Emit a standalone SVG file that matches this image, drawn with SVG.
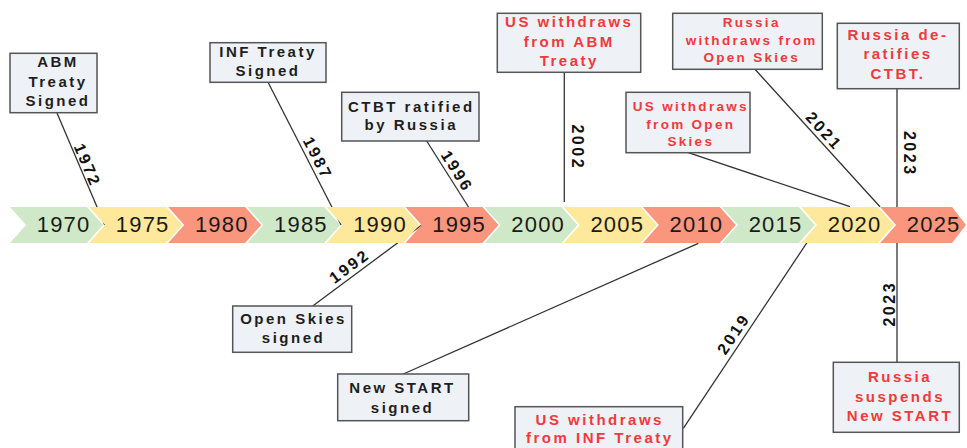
<svg xmlns="http://www.w3.org/2000/svg" width="967" height="448" viewBox="0 0 967 448">
<style>
.bg{fill:#ffffff}
.g{fill:#cfe9c8}.y{fill:#fde89b}.r{fill:#fa957e}
.bl{font-family:"Liberation Sans",Arial,sans-serif;font-size:22px;letter-spacing:1.2px;text-anchor:middle;fill:#1a1a1a}
.box{fill:#eef1f6;stroke:#555;stroke-width:1.5}
.bt{font-family:"Liberation Sans",Arial,sans-serif;font-weight:bold;font-size:15px;letter-spacing:2.5px;text-anchor:middle;fill:#1e1e1e}
.sm{font-size:13.5px;letter-spacing:2.3px}
.red{fill:#f0393b}
.yr{font-family:"Liberation Sans",Arial,sans-serif;font-weight:bold;font-size:16px;letter-spacing:2.5px;text-anchor:middle;fill:#111}
.conn line{stroke:#333;stroke-width:1.3}
</style>
<defs>
<path id="chev" d="M0,207 H77 L93,225 L77,243 H0 L16,225 Z"/>
</defs>
<rect class="bg" x="0" y="0" width="967" height="448"/>
<g id="connectors" class="conn">
<line x1="57" y1="113" x2="104.7" y2="225"/>
<line x1="268.3" y1="82.7" x2="341.1" y2="225"/>
<line x1="426.7" y1="141" x2="479.9" y2="225"/>
<line x1="564.3" y1="72.3" x2="564.3" y2="202"/>
<line x1="688.3" y1="152.7" x2="850" y2="206.7"/>
<line x1="755" y1="69.3" x2="880" y2="206.7"/>
<line x1="897" y1="88.7" x2="897" y2="207"/>
<line x1="312.7" y1="306" x2="421.7" y2="225"/>
<line x1="403.3" y1="374" x2="698.3" y2="243.3"/>
<line x1="683.3" y1="428.3" x2="818.7" y2="225"/>
<line x1="897" y1="243" x2="897" y2="362.3"/>
<g id="year-labels">
<text class="yr" transform="translate(81.9,166.3) rotate(66.9)" x="1.25" y="0">1972</text>
<text class="yr" transform="translate(312.3,159.8) rotate(62.9)" x="1.25" y="0">1987</text>
<text class="yr" transform="translate(451.8,173.2) rotate(57.7)" x="1.25" y="0">1996</text>
<text class="yr" transform="translate(571.5,146) rotate(90)" x="1.25" y="0">2002</text>
<text class="yr" transform="translate(819.2,133.9) rotate(47.7)" x="1.25" y="0">2021</text>
<text class="yr" transform="translate(903.5,152.5) rotate(90)" x="1.25" y="0">2023</text>
<text class="yr" transform="translate(351.8,271.3) rotate(-36.6)" x="1.25" y="0">1992</text>
<text class="yr" transform="translate(737.4,337.9) rotate(-56.3)" x="1.25" y="0">2019</text>
<text class="yr" transform="translate(894.5,305) rotate(-90)" x="1.25" y="0">2023</text>
</g>
</g>
<g id="timeline">
<use href="#chev" class="g" x="10"/>
<use href="#chev" class="y" x="89.1"/>
<use href="#chev" class="r" x="168.2"/>
<use href="#chev" class="g" x="247.3"/>
<use href="#chev" class="y" x="326.4"/>
<use href="#chev" class="r" x="405.5"/>
<use href="#chev" class="g" x="484.6"/>
<use href="#chev" class="y" x="563.7"/>
<use href="#chev" class="r" x="642.8"/>
<use href="#chev" class="g" x="721.9"/>
<use href="#chev" class="y" x="801"/>
<path class="r" d="M880.1,207 H952 L966,225 L952,243 H880.1 L896.1,225 Z"/>
<text class="bl" x="63.6" y="231.7">1970</text>
<text class="bl" x="142.7" y="231.7">1975</text>
<text class="bl" x="221.8" y="231.7">1980</text>
<text class="bl" x="300.9" y="231.7">1985</text>
<text class="bl" x="380" y="231.7">1990</text>
<text class="bl" x="459.1" y="231.7">1995</text>
<text class="bl" x="538.2" y="231.7">2000</text>
<text class="bl" x="617.3" y="231.7">2005</text>
<text class="bl" x="696.4" y="231.7">2010</text>
<text class="bl" x="775.5" y="231.7">2015</text>
<text class="bl" x="854.6" y="231.7">2020</text>
<text class="bl" x="933.7" y="231.7">2025</text>
</g>
<g id="abm-signed">
<rect class="box" x="10" y="53.3" width="87" height="59.4"/>
<text class="bt" x="58" y="67.3">ABM</text>
<text class="bt" x="58" y="86.7">Treaty</text>
<text class="bt" x="58" y="106">Signed</text>
</g>
<g id="inf-signed">
<rect class="box" x="210" y="42.7" width="116" height="39.6"/>
<text class="bt" x="268" y="57.3">INF Treaty</text>
<text class="bt" x="268" y="76">Signed</text>
</g>
<g id="ctbt-ratified">
<rect class="box" x="341.7" y="92.3" width="137.3" height="48.7"/>
<text class="bt" x="411.3" y="111.7">CTBT ratified</text>
<text class="bt" x="411.3" y="130">by Russia</text>
</g>
<g id="us-abm-withdraw">
<rect class="box" x="497.3" y="13.3" width="143.4" height="59"/>
<text class="bt red" x="569.3" y="27.3">US withdraws</text>
<text class="bt red" x="569.3" y="46.7">from ABM</text>
<text class="bt red" x="569.3" y="66">Treaty</text>
</g>
<g id="us-openskies-withdraw">
<rect class="box" x="626" y="92.3" width="124" height="60.4"/>
<text class="bt sm red" x="690.8" y="111">US withdraws</text>
<text class="bt sm red" x="690.8" y="128.5">from Open</text>
<text class="bt sm red" x="690.8" y="146">Skies</text>
</g>
<g id="russia-openskies-withdraw">
<rect class="box" x="672.7" y="13.3" width="149.6" height="56"/>
<text class="bt sm red" x="751.7" y="27.3">Russia</text>
<text class="bt sm red" x="751.7" y="45">withdraws from</text>
<text class="bt sm red" x="751.7" y="61.7">Open Skies</text>
</g>
<g id="russia-ctbt-deratify">
<rect class="box" x="837.3" y="23.3" width="122" height="65.4"/>
<text class="bt red" x="898" y="40">Russia de-</text>
<text class="bt red" x="898" y="59.3">ratifies</text>
<text class="bt red" x="898" y="78.7">CTBT.</text>
</g>
<g id="openskies-signed">
<rect class="box" x="232.7" y="306" width="119" height="46.3"/>
<text class="bt" x="293.5" y="324">Open Skies</text>
<text class="bt" x="293.5" y="342.7">signed</text>
</g>
<g id="newstart-signed">
<rect class="box" x="337.7" y="374" width="131" height="46.7"/>
<text class="bt" x="402.5" y="393.3">New START</text>
<text class="bt" x="402.5" y="412.7">signed</text>
</g>
<g id="us-inf-withdraw">
<rect class="box" x="515" y="406.7" width="167.7" height="50"/>
<text class="bt red" x="599.8" y="425">US withdraws</text>
<text class="bt red" x="599.8" y="443.3">from INF Treaty</text>
</g>
<g id="russia-newstart-suspend">
<rect class="box" x="833.3" y="362.3" width="126" height="70"/>
<text class="bt red" x="900" y="381.7">Russia</text>
<text class="bt red" x="900" y="401.7">suspends</text>
<text class="bt red" x="900" y="420.7">New START</text>
</g>
</svg>
